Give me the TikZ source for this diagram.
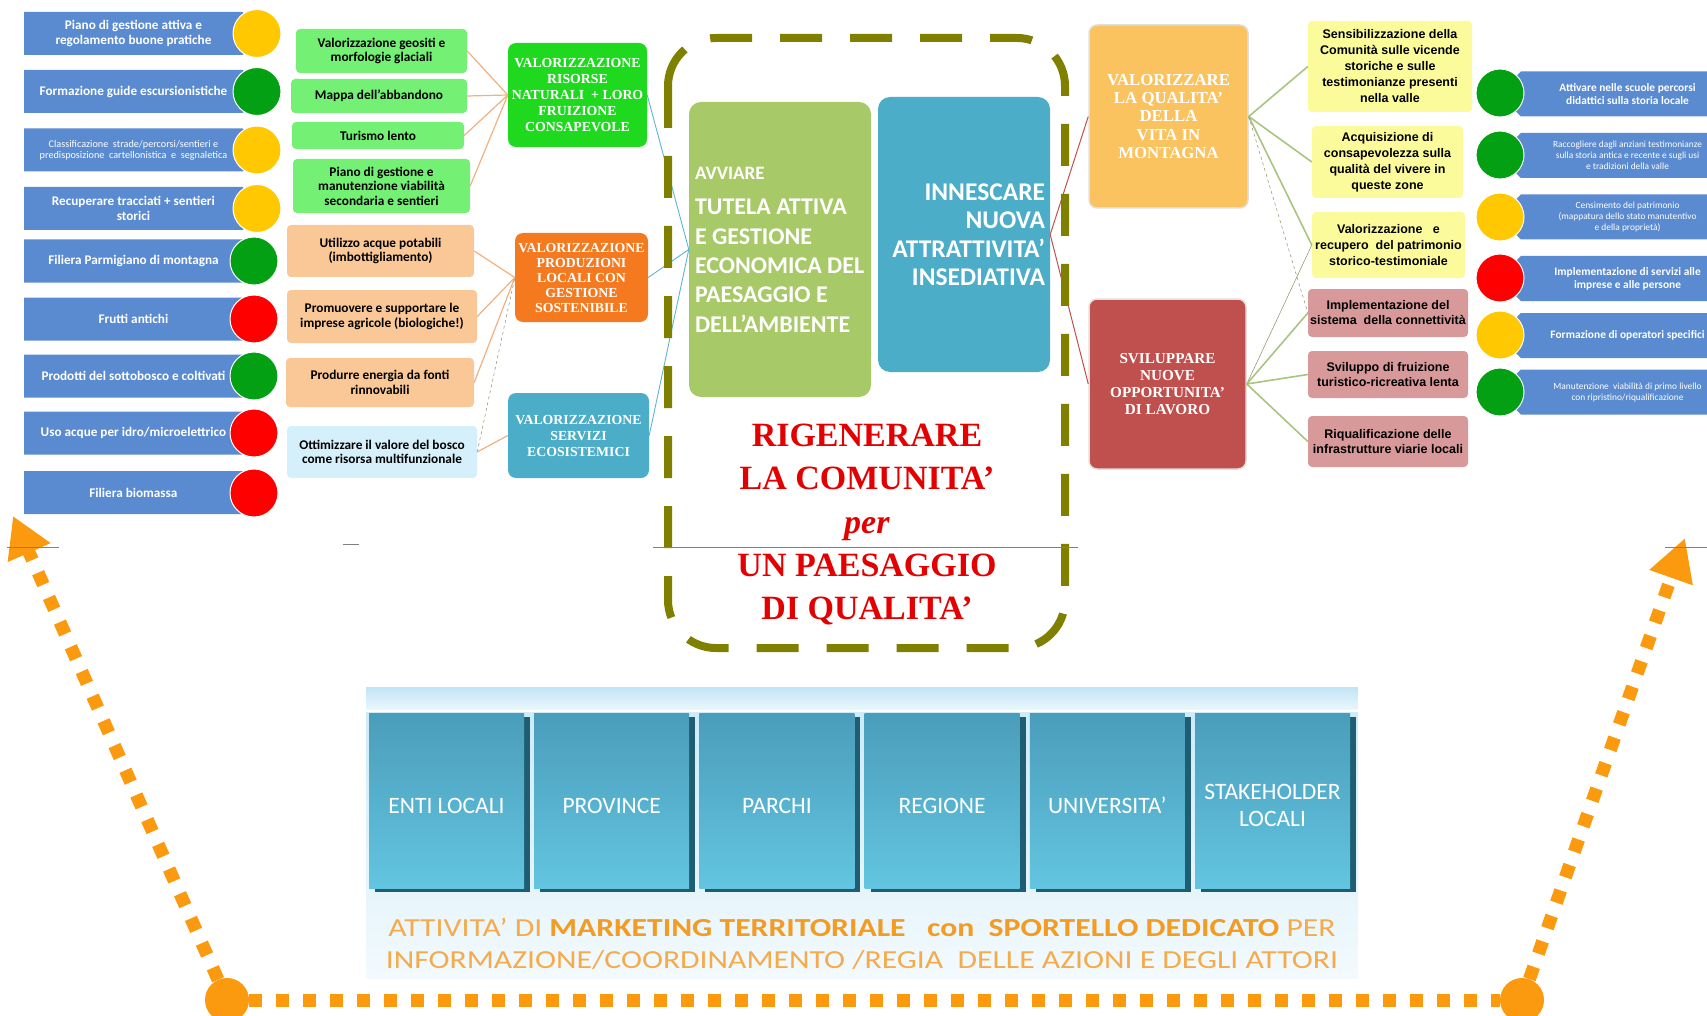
\documentclass[tikz,border=0pt]{standalone}
\usepackage{fontspec}
\setmainfont{Liberation Serif}
\setsansfont{Carlito}
\newfontfamily\arialfont{Liberation Sans}
\usetikzlibrary{shapes.symbols,arrows.meta,positioning,shadows}

\definecolor{actblue}{HTML}{5A8AD0}
\definecolor{lampyellow}{HTML}{FFC800}
\definecolor{lampgreen}{HTML}{02A012}
\definecolor{lampred}{HTML}{FF0000}
\definecolor{taskgreen}{HTML}{74F074}
\definecolor{taskpeach}{HTML}{FAC896}
\definecolor{taskice}{HTML}{D5EFFB}
\definecolor{taskyellow}{HTML}{FBFB9C}
\definecolor{taskpink}{HTML}{D8999A}
\definecolor{hubgreen}{HTML}{1FD91F}
\definecolor{huborange}{HTML}{F5791F}
\definecolor{hubteal}{HTML}{4BADC8}
\definecolor{avvgreen}{HTML}{A7C967}
\definecolor{qualorange}{HTML}{FAC35F}
\definecolor{svilred}{HTML}{C0504D}
\definecolor{frameolive}{HTML}{808000}
\definecolor{titlered}{HTML}{E30000}
\definecolor{linkpeach}{HTML}{F2B07E}
\definecolor{linkblue}{HTML}{5BB6D3}
\definecolor{linkgreen}{HTML}{A9C47F}
\definecolor{loopor}{HTML}{FB9A0E}
\definecolor{mktlight}{HTML}{F5AB4C}
\definecolor{mktbold}{HTML}{F39B22}
\definecolor{actortop}{HTML}{4A9DBA}
\definecolor{actorbot}{HTML}{63C5E1}
\definecolor{actordark}{HTML}{1F5E72}
\definecolor{striptop}{HTML}{C2E4F5}
\definecolor{stripbot}{HTML}{E9F6FC}
\definecolor{paneltop}{HTML}{CDEBF8}
\definecolor{panelbot}{HTML}{F3FAFD}

\newcommand{\actorname}[1]{\raisebox{-13.5pt}[0pt][0pt]{\begin{tabular}{@{}c@{}}#1\end{tabular}}}

\tikzset{
  act/.style={shape=signal, signal to=east, fill=actblue, text=white, align=center,
    minimum width=240pt, minimum height=43pt, inner sep=1pt, anchor=west,
    font=\sffamily\bfseries\fontsize{13.2}{14.5}\selectfont},
  ract/.style={act, signal to=west, minimum height=45pt, minimum width=236pt,
    font=\sffamily\bfseries\fontsize{11.4}{12.8}\selectfont},
  smalltext/.style={font=\sffamily\fontsize{10.2}{11.2}\selectfont},
  rsmall/.style={font=\sffamily\fontsize{9.4}{11}\selectfont},
  lamp/.style={circle, draw=white, line width=1pt, minimum size=48pt, inner sep=0pt},
  task/.style={rounded corners=4pt, align=center, inner sep=2pt,
    font=\sffamily\bfseries\fontsize{13.3}{14.5}\selectfont},
  rtask/.style={task, font=\arialfont\bfseries\fontsize{12.5}{16}\selectfont},
  hub/.style={rounded corners=8pt, text=white, align=center, inner sep=1pt,
    font=\rmfamily\bfseries\fontsize{13.8}{16}\selectfont},
  goal/.style={rounded corners=12pt, text=white, inner sep=6pt,
    font=\sffamily\bfseries\fontsize{24}{29.3}\selectfont},
  feed/.style={draw=linkpeach, line width=1.2pt},
  upfeed/.style={draw=linkblue, line width=0.9pt},
  redfeed/.style={draw=svilred, line width=1pt},
  greenfeed/.style={draw=linkgreen, line width=1.6pt},
  thinfeed/.style={draw=gray!70!olive, line width=0.5pt},
  frame/.style={draw=frameolive, line width=8pt, rounded corners=48pt,
    dash pattern=on 42pt off 28pt},
  actor/.style={top color=actortop, bottom color=actorbot, text=white,
    minimum width=155pt, minimum height=175pt, align=center, inner sep=0pt,
    font=\sffamily\fontsize{23.5}{27}\selectfont,
    drop shadow={shadow xshift=6pt, shadow yshift=-4pt, fill=actordark, opacity=1}},
  loopline/.style={draw=loopor, line width=13pt, dash pattern=on 13pt off 14pt},
  bigdot/.style={circle, fill=loopor, minimum size=44pt, inner sep=0pt},
  stray/.style={draw=gray, line width=0.5pt}
}

\begin{document}
\begin{tikzpicture}[x=1pt,y=-1pt]
  \useasboundingbox (0,0) rectangle (1707,1016);
  \clip (0,0) rectangle (1707,1016);

  % left column: actions and traffic lights
  \node[act] (act1) at (24,33.5) {Piano di gestione attiva e\\regolamento buone pratiche};
  \node[act] (act2) at (24,91.5) {Formazione guide escursionistiche};
  \node[act, smalltext] (act3) at (24,150) {Classificazione\ \ strade/percorsi/sentieri e\\predisposizione\ \ cartellonistica\ \ e\ \ segnaletica};
  \node[act] (act4) at (24,208.5) {Recuperare tracciati + sentieri\\storici};
  \node[act] (act5) at (24,261) {Filiera Parmigiano di montagna};
  \node[act] (act6) at (24,319) {Frutti antichi};
  \node[act] (act7) at (24,376) {Prodotti del sottobosco e coltivati};
  \node[act] (act8) at (24,433) {Uso acque per idro/microelettrico};
  \node[act] (act9) at (24,492.5) {Filiera biomassa};
  \node[lamp, fill=lampyellow] (lamp1) at (257,33.5) {};
  \node[lamp, fill=lampgreen] (lamp2) at (257,91.5) {};
  \node[lamp, fill=lampyellow] (lamp3) at (257,150) {};
  \node[lamp, fill=lampyellow] (lamp4) at (257,208.5) {};
  \node[lamp, fill=lampgreen] (lamp5) at (254,261) {};
  \node[lamp, fill=lampred] (lamp6) at (254,319) {};
  \node[lamp, fill=lampgreen] (lamp7) at (254,376) {};
  \node[lamp, fill=lampred] (lamp8) at (254,433) {};
  \node[lamp, fill=lampred] (lamp9) at (254,493) {};

  % second column
  \node[task, fill=taskgreen, minimum width=171pt, minimum height=44pt] (geo) at (381.5,51) {Valorizzazione geositi e\\morfologie glaciali};
  \node[task, fill=taskgreen, minimum width=176pt, minimum height=34pt] (mappa) at (379,96) {Mappa dell'abbandono};
  \node[task, fill=taskgreen, minimum width=172pt, minimum height=27pt] (lento) at (378,135.5) {Turismo lento};
  \node[task, fill=taskgreen, minimum width=177pt, minimum height=54pt] (viab) at (381.5,186) {Piano di gestione e\\manutenzione viabilità\\secondaria e sentieri};
  \node[task, fill=taskpeach, minimum width=187pt, minimum height=52pt] (acque) at (380.5,251) {Utilizzo acque potabili\\(imbottigliamento)};
  \node[task, fill=taskpeach, minimum width=190pt, minimum height=53pt] (impr) at (382,316.5) {Promuovere e supportare le\\imprese agricole (biologiche!)};
  \node[task, fill=taskpeach, minimum width=188pt, minimum height=49pt] (energ) at (380,382.5) {Produrre energia da fonti\\rinnovabili};
  \node[task, fill=taskice, minimum width=190pt, minimum height=52pt] (bosco) at (382,452) {Ottimizzare il valore del bosco\\come risorsa multifunzionale};

  % hubs
  \node[hub, fill=hubgreen, minimum width=139pt, minimum height=104pt] (hubnat) at (577.5,95) {VALORIZZAZIONE\\RISORSE\\NATURALI\ \ + LORO\\FRUIZIONE\\CONSAPEVOLE};
  \node[hub, fill=huborange, font=\rmfamily\bfseries\fontsize{13.8}{15}\selectfont, minimum width=133pt, minimum height=89pt] (hubprod) at (581.5,277.5) {VALORIZZAZIONE\\PRODUZIONI\\LOCALI CON\\GESTIONE\\SOSTENIBILE};
  \node[hub, fill=hubteal, minimum width=141pt, minimum height=85pt] (hubeco) at (578.5,435.5) {VALORIZZAZIONE\\SERVIZI\\ECOSISTEMICI};

  % central goals
  \node[goal, fill=avvgreen, text width=170pt, align=flush left, minimum height=295pt, inner sep=6pt] (avv) at (780,249.5) {{\fontsize{19}{22}\selectfont AVVIARE}\\[6.5pt]TUTELA ATTIVA\\E GESTIONE\\ECONOMICA DEL\\PAESAGGIO E\\DELL'AMBIENTE};
  \node[goal, fill=hubteal, font=\sffamily\bfseries\fontsize{25.5}{28.5}\selectfont, text width=162pt, align=flush right, minimum height=275pt, inner sep=5pt] (inn) at (964,234.5) {INNESCARE\\NUOVA\\ATTRATTIVITA'\\INSEDIATIVA};
  \node[text=titlered, align=center, font=\rmfamily\bfseries\fontsize{34}{43.3}\selectfont] (regen) at (867,524.5) {RIGENERARE\\LA COMUNITA’\\\textit{per}\\UN PAESAGGIO\\DI QUALITA’};

  % right side
  \node[hub, fill=qualorange, draw=gray!25, line width=1.5pt, font=\rmfamily\bfseries\fontsize{16.8}{18.3}\selectfont, minimum width=159pt, minimum height=183pt] (qual) at (1168.5,116.5) {VALORIZZARE\\LA QUALITA'\\DELLA\\VITA IN\\MONTAGNA};
  \node[hub, fill=svilred, draw=gray!25, line width=1.5pt, font=\rmfamily\bfseries\fontsize{15.2}{17}\selectfont, minimum width=157pt, minimum height=170pt] (svil) at (1167.5,384) {SVILUPPARE\\NUOVE\\OPPORTUNITA'\\DI LAVORO};
  \node[rtask, fill=taskyellow, minimum width=164pt, minimum height=91pt] (sens) at (1390,66.5) {Sensibilizzazione della\\Comunità sulle vicende\\storiche e sulle\\testimonianze presenti\\nella valle};
  \node[rtask, fill=taskyellow, minimum width=151pt, minimum height=72pt] (consap) at (1387.5,162) {Acquisizione di\\consapevolezza sulla\\qualità del vivere in\\queste zone};
  \node[rtask, fill=taskyellow, minimum width=153pt, minimum height=66pt] (recup) at (1388.5,245) {Valorizzazione\ \ \ e\\recupero\ \ del patrimonio\\storico-testimoniale};
  \node[rtask, fill=taskpink, font=\arialfont\bfseries\fontsize{12.5}{15}\selectfont, minimum width=160pt, minimum height=48pt] (conn) at (1388,313) {Implementazione del\\sistema\ \ della connettività};
  \node[rtask, fill=taskpink, font=\arialfont\bfseries\fontsize{12.5}{15}\selectfont, minimum width=160pt, minimum height=47pt] (fruiz) at (1388,374.5) {Sviluppo di fruizione\\turistico-ricreativa lenta};
  \node[rtask, fill=taskpink, font=\arialfont\bfseries\fontsize{12.5}{15}\selectfont, minimum width=160pt, minimum height=51pt] (infra) at (1388,441.5) {Riqualificazione delle\\infrastrutture viarie locali};

  \node[ract] (ract1) at (1498,94) {Attivare nelle scuole percorsi\\didattici sulla storia locale};
  \node[ract, rsmall] (ract2) at (1498,155.5) {Raccogliere dagli anziani testimonianze\\sulla storia antica e recente e sugli usi\\e tradizioni della valle};
  \node[ract, rsmall] (ract3) at (1498,217) {Censimento del patrimonio\\(mappatura dello stato manutentivo\\e della proprietà)};
  \node[ract] (ract4) at (1498,278.5) {Implementazione di servizi alle\\imprese e alle persone};
  \node[ract] (ract5) at (1498,335.5) {Formazione di operatori specifici};
  \node[ract, rsmall] (ract6) at (1498,392) {Manutenzione\ \ viabilità di primo livello\\con ripristino/riqualificazione};
  \node[lamp, fill=lampgreen] (rlamp1) at (1500,93) {};
  \node[lamp, fill=lampgreen] (rlamp2) at (1500,155) {};
  \node[lamp, fill=lampyellow] (rlamp3) at (1500,217) {};
  \node[lamp, fill=lampred] (rlamp4) at (1500,278) {};
  \node[lamp, fill=lampyellow] (rlamp5) at (1500,335) {};
  \node[lamp, fill=lampgreen] (rlamp6) at (1500,392) {};

  % connectors
  \draw[feed] (geo.east) -- (hubnat.west);
  \draw[feed] (mappa.east) -- (hubnat.west);
  \draw[feed] (lento.east) -- (hubnat.west);
  \draw[feed] (viab.east) -- (hubnat.west);
  \draw[feed] (acque.east) -- (hubprod.west);
  \draw[feed] (impr.east) -- (hubprod.west);
  \draw[feed] (energ.east) -- (hubprod.west);
  \draw[thinfeed, dashed] (bosco.east) -- (hubprod.west);
  \draw[feed] (bosco.east) -- (hubeco.west);
  \draw[upfeed] (hubnat.east) -- (avv.west);
  \draw[upfeed] (hubprod.east) -- (avv.west);
  \draw[upfeed] (hubeco.east) -- (avv.west);
  \draw[redfeed] (inn.east) -- (qual.west);
  \draw[redfeed] (inn.east) -- (svil.west);
  \draw[greenfeed] (qual.east) -- (sens.west);
  \draw[greenfeed] (qual.east) -- (consap.west);
  \draw[greenfeed] (qual.east) -- (recup.west);
  \draw[thinfeed, dashed] (qual.east) -- (conn.west);
  \draw[thinfeed] (svil.east) -- (recup.west);
  \draw[greenfeed] (svil.east) -- (conn.west);
  \draw[greenfeed] (svil.east) -- (fruiz.west);
  \draw[greenfeed] (svil.east) -- (infra.west);

  % dashed frame
  \draw[frame] (668,38) rectangle (1065,648);

  % bottom panel with the actors
  \shade[top color=striptop, bottom color=stripbot] (366,687) rectangle (1358,709);
  \shade[top color=paneltop, bottom color=panelbot] (366,712) rectangle (1358,978);
  \node[actor] (enti) at (446.5,800.5) {\actorname{ENTI LOCALI}};
  \node[actor, right=9.8pt of enti] (prov) {\actorname{PROVINCE}};
  \node[actor, right=9.8pt of prov] (parchi) {\actorname{PARCHI}};
  \node[actor, right=9.8pt of parchi] (reg) {\actorname{REGIONE}};
  \node[actor, right=9.8pt of reg] (univ) {\actorname{UNIVERSITA'}};
  \node[actor, right=9.8pt of univ] (stake) {\actorname{STAKEHOLDER\\LOCALI}};
  \node[text=mktlight, align=center, font=\sffamily\fontsize{26}{32}\selectfont] (mkt) at (862,944)
    {\scalebox{1.22}[1]{ATTIVITA' DI \textcolor{mktbold}{\bfseries MARKETING TERRITORIALE\ \ \ con\ \ SPORTELLO DEDICATO} PER}\\
     \scalebox{1.22}[1]{INFORMAZIONE/COORDINAMENTO /REGIA\ \ DELLE AZIONI E DEGLI ATTORI}};

  % dotted loop
  \node[bigdot] (dotL) at (227,1000) {};
  \node[bigdot] (dotR) at (1522,1000) {};
  \coordinate (tipL) at (13,516);
  \coordinate (tipR) at (1685,538);
  \draw[loopline, -{Triangle[length=40pt,width=44pt]}] (dotL) -- (tipL);
  \draw[loopline] (dotL) -- (dotR);
  \draw[loopline, -{Triangle[length=42pt,width=43pt]}] (dotR) -- (tipR);

  \draw[stray] (653,547) -- (1078,547);
  \draw[stray] (7,547) -- (59,547);
  \draw[stray] (343,544) -- (359,544);
  \draw[stray] (1665,547) -- (1707,547);
\end{tikzpicture}
\end{document}
